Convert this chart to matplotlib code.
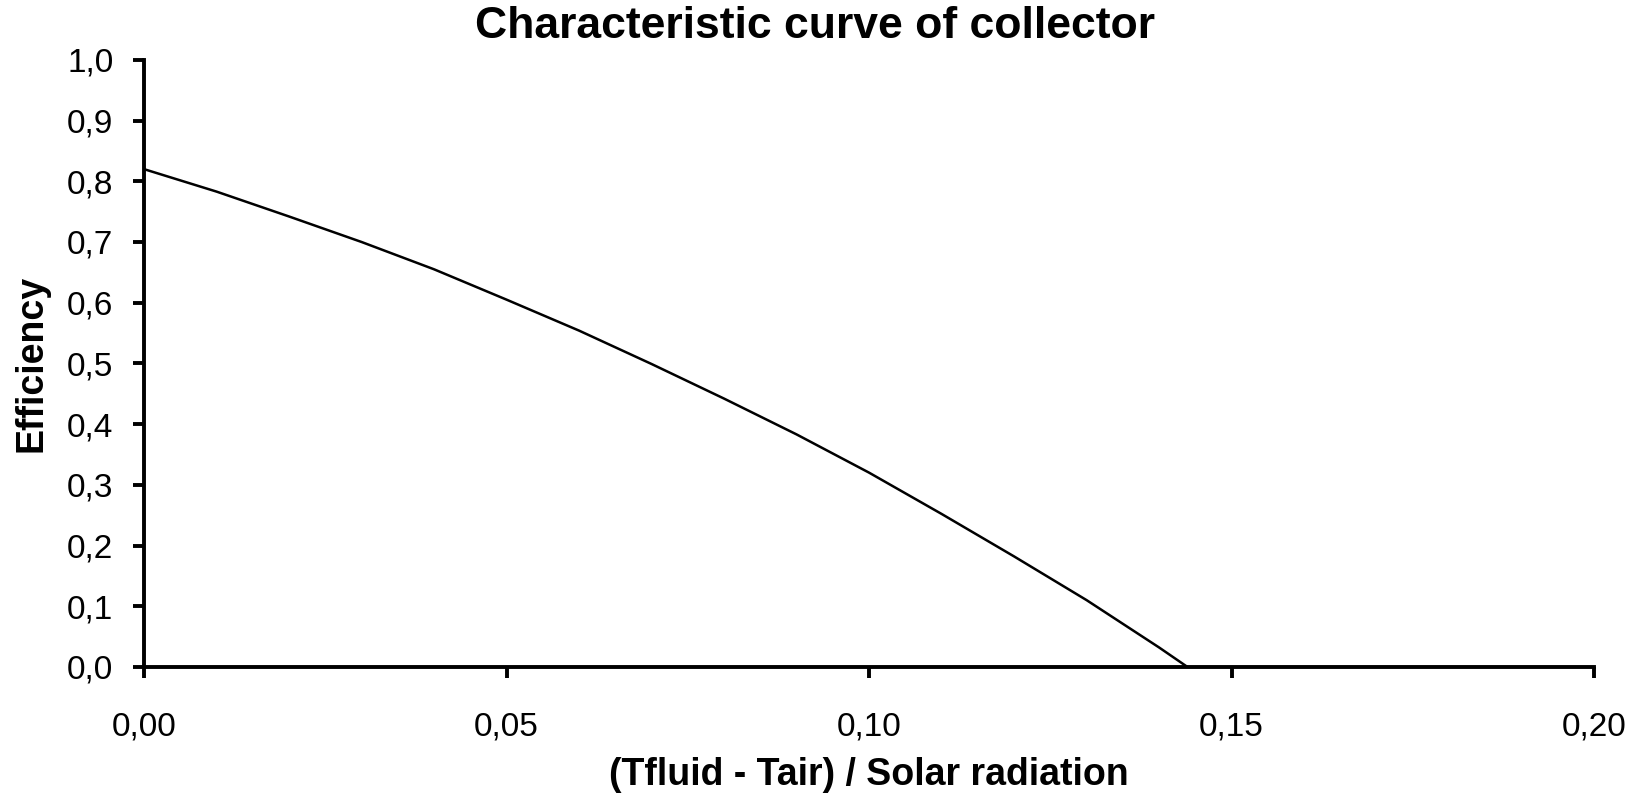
import numpy as np
import matplotlib
matplotlib.use('Agg')
import matplotlib.pyplot as plt

plt.rcParams['font.family'] = ['Liberation Sans', 'DejaVu Sans']

# Data
x_vals = [0.000, 0.010, 0.020, 0.030, 0.040, 0.050, 0.060, 0.070,
          0.080, 0.090, 0.100, 0.110, 0.120, 0.130, 0.140, 0.1439]
efficiency = [0.820, 0.783, 0.742, 0.700, 0.655, 0.605, 0.554, 0.499,
              0.442, 0.383, 0.320, 0.252, 0.182, 0.110, 0.032, 0.000]

x_ticks = [0.00, 0.05, 0.10, 0.15, 0.20]
y_ticks = [0.0, 0.1, 0.2, 0.3, 0.4, 0.5, 0.6, 0.7, 0.8, 0.9, 1.0]

fig = plt.figure(figsize=(16.46, 7.93), dpi=100)
ax = fig.add_axes([0.0875, 0.159, 0.881, 0.7655])

ax.plot(x_vals, efficiency, color='black', linewidth=1.8)

ax.set_xlim(0, 0.20)
ax.set_ylim(0, 1.0)
ax.set_xticks(x_ticks)
ax.set_yticks(y_ticks)
ax.set_xticklabels([f'{v:.2f}'.replace('.', ',') for v in x_ticks])
ax.set_yticklabels([f'{v:.1f}'.replace('.', ',') for v in y_ticks])

for side in ['top', 'right']:
    ax.spines[side].set_visible(False)
for side in ['left', 'bottom']:
    ax.spines[side].set_linewidth(2.8)
    ax.spines[side].set_capstyle('projecting')

ax.tick_params(axis='y', direction='out', length=8, width=2.8, labelsize=24, pad=14)
ax.tick_params(axis='x', direction='out', length=8, width=2.8, labelsize=24, pad=24)

ax.set_xlabel('(Tfluid - Tair) / Solar radiation', fontsize=27, fontweight='bold')
ax.xaxis.set_label_coords(0.5, -0.178)
ax.xaxis.label.set_va('center')
ax.set_ylabel('Efficiency', fontsize=27, fontweight='bold')
ax.yaxis.set_label_coords(-0.0779, 0.5)
ax.yaxis.label.set_va('center')
fig.text(0.495, 0.967, 'Characteristic curve of collector', fontsize=32,
         fontweight='bold', ha='center', va='center')

fig.savefig('out.png', dpi=100, facecolor='white')
